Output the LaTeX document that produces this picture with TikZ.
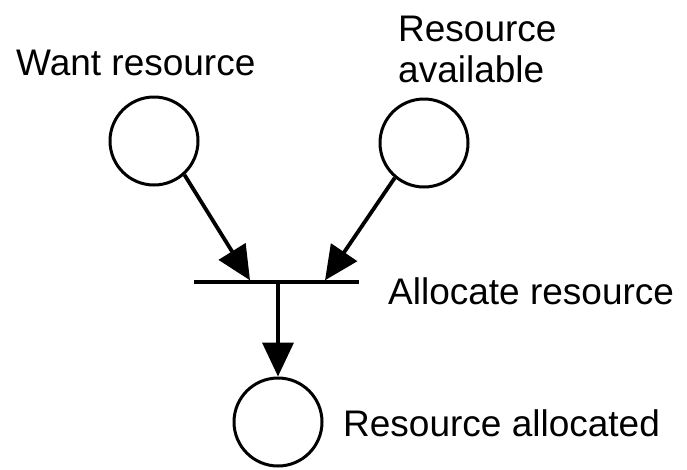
\documentclass[tikz,border=0pt]{standalone}
\usepackage{fontspec}
\setmainfont{Liberation Sans}
\usetikzlibrary{arrows.meta}
\tikzset{
  place/.style={circle, draw, line width=3pt, minimum size=88pt, inner sep=0pt},
  tbar/.style={rectangle, fill=black, minimum width=165pt, minimum height=3.5pt, inner sep=0pt, outer sep=0pt},
  arr/.style={line width=3.8pt, -{Triangle[length=34pt,width=31pt]}},
  lbl/.style={font=\fontsize{37}{41}\selectfont, inner sep=0pt, anchor=base west, align=left},
}
\begin{document}
\begin{tikzpicture}[x=1pt,y=-1pt]
\path[use as bounding box] (0,0) rectangle (687,469);
\node[place] (p1) at (154,141) {};
\node[place] (p2) at (424,143) {};
\node[place] (p3) at (278,422) {};
\node[tbar] (t) at (276.5,282) {};
\coordinate (tl) at (250,280.3);
\coordinate (tr) at (325,280.3);
\coordinate (tm) at (278,282);
\draw[arr] (p1.-48) -- (tl);
\draw[arr] (p2.-130) -- (tr);
\draw[arr] (tm) -- (p3.north);
\node[lbl] (l1) at (16,75) {Want resource};
\node[lbl] (l2) at (398,82) {Resource\\available};
\node[lbl] (l3) at (388,304) {Allocate resource};
\node[lbl] (l4) at (343,436) {Resource allocated};
\end{tikzpicture}
\end{document}
